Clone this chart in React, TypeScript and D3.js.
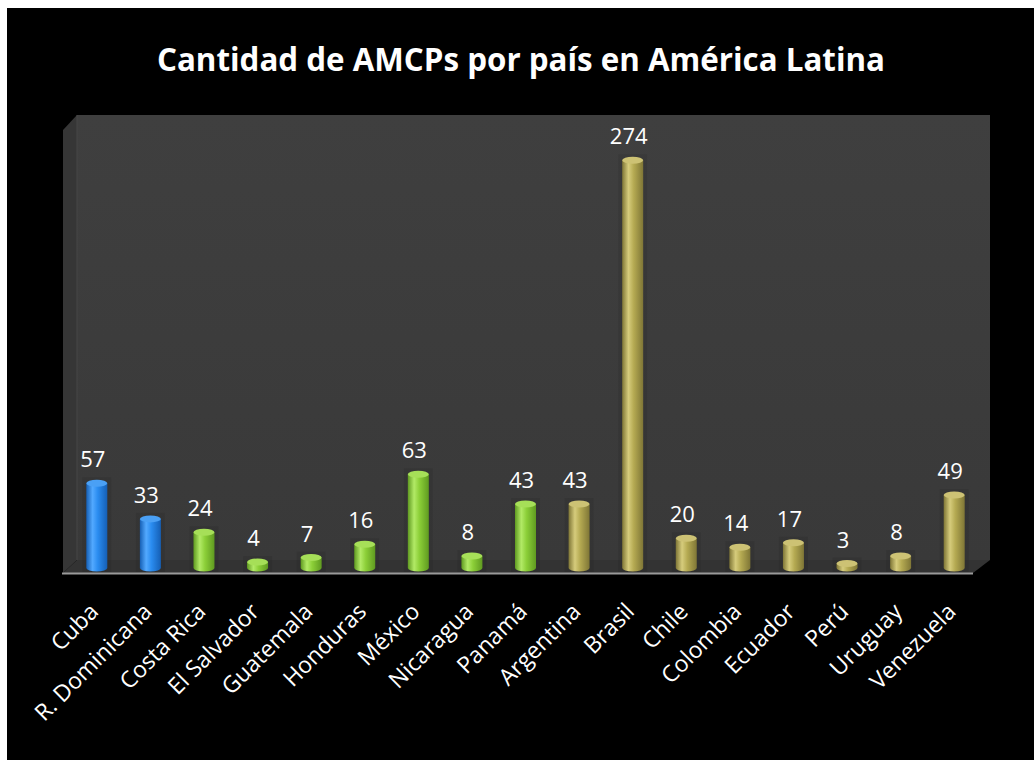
import React from "react";
import * as d3 from "d3";

const categories = [
  "Cuba", "R. Dominicana", "Costa Rica", "El Salvador", "Guatemala", "Honduras",
  "México", "Nicaragua", "Panamá", "Argentina", "Brasil", "Chile", "Colombia",
  "Ecuador", "Perú", "Uruguay", "Venezuela",
];
const values = [57, 33, 24, 4, 7, 16, 63, 8, 43, 43, 274, 20, 14, 17, 3, 8, 49];
const regions = [
  "caribe", "caribe", "centro", "centro", "centro", "centro", "centro", "centro", "centro",
  "sur", "sur", "sur", "sur", "sur", "sur", "sur", "sur",
];
const title = "Cantidad de AMCPs por país en América Latina";

const palette: Record<string, { dark: string; mid: string; light: string; top: string }> = {
  caribe: { dark: "#155fb5", mid: "#2a8cf0", light: "#52a9ff", top: "#4aa0f5" },
  centro: { dark: "#5f9a20", mid: "#8ccf38", light: "#b2ea66", top: "#a6df58" },
  sur: { dark: "#7f7636", mid: "#b5aa52", light: "#d6cc7c", top: "#cdc274" },
};

export default function App() {
  const W = 1034, H = 760;
  const x = d3.scaleBand<string>().domain(categories).range([70, 981]).padding(0);
  const y = d3.scaleLinear().domain([0, 300]).range([568, 121.6]);
  const bw = 21;
  const ry = 3.5;
  const y0 = y(0);

  return (
    <div style={{ position: "absolute", left: 0, top: 0 }}>
      <svg width={W} height={H} style={{ display: "block" }}>
        <defs>
          {Object.entries(palette).map(([k, p]) => (
            <linearGradient key={k} id={`g-${k}`} x1="0" x2="1" y1="0" y2="0">
              <stop offset="0" stopColor={p.dark} />
              <stop offset="0.3" stopColor={p.light} />
              <stop offset="0.55" stopColor={p.mid} />
              <stop offset="1" stopColor={p.dark} />
            </linearGradient>
          ))}
          <linearGradient id="wall" x1="0" x2="0" y1="0" y2="1">
            <stop offset="0" stopColor="#3f3f3f" />
            <stop offset="1" stopColor="#393939" />
          </linearGradient>
        </defs>
        <rect x={0} y={0} width={W} height={H} fill="#ffffff" />
        <rect x={7} y={8} width={W - 7} height={H - 8} fill="#000000" />

        <text
          x={521}
          y={71}
          textAnchor="middle"
          fill="#ffffff"
          fontFamily="'Open Sans', sans-serif"
          fontWeight={700}
          fontSize={33}
          textLength={728}
          lengthAdjust="spacingAndGlyphs"
        >
          {title}
        </text>

        {/* 3D plot box */}
        <rect x={77} y={115} width={913} height={445} fill="url(#wall)" />
        <polygon points="63,130 77,115 77,560 63,573" fill="#363636" />
        <line x1={77} y1={115} x2={77} y2={560} stroke="#474747" strokeWidth={1} />
        <polygon points="63,573 77,560 990,560 973,573" fill="#333333" />
        <line x1={62} y1={573.5} x2={973} y2={573.5} stroke="#9a9a9a" strokeWidth={2} />

        {/* bars */}
        {categories.map((c, i) => {
          const v = values[i];
          const xc = (x(c) as number) + x.bandwidth() / 2;
          const xl = xc - bw / 2, xr = xc + bw / 2;
          const yt = y(v);
          const p = palette[regions[i]];
          return (
            <g key={c}>
              <rect x={xl - 4} y={yt - 6} width={bw + 8} height={y0 - yt + 10} fill="#000" opacity={0.08} />
              <path
                d={`M${xl},${yt} L${xl},${y0} A${bw / 2},${ry} 0 0 0 ${xr},${y0} L${xr},${yt} Z`}
                fill={`url(#g-${regions[i]})`}
              />
              <ellipse cx={xc} cy={yt} rx={bw / 2} ry={ry} fill={p.top} />
              <text
                x={xc - 4}
                y={yt - 16}
                textAnchor="middle"
                fill="#ffffff"
                fontFamily="'Open Sans', sans-serif"
                fontSize={22}
              >
                {v}
              </text>
            </g>
          );
        })}

        {/* category labels */}
        {categories.map((c) => {
          const xc = (x(c) as number) + x.bandwidth() / 2;
          return (
            <text
              key={c}
              transform={`translate(${xc + 3},${613}) rotate(-45)`}
              textAnchor="end"
              fill="#ffffff"
              fontFamily="'Open Sans', sans-serif"
              fontSize={23}
            >
              {c}
            </text>
          );
        })}
      </svg>
    </div>
  );
}
